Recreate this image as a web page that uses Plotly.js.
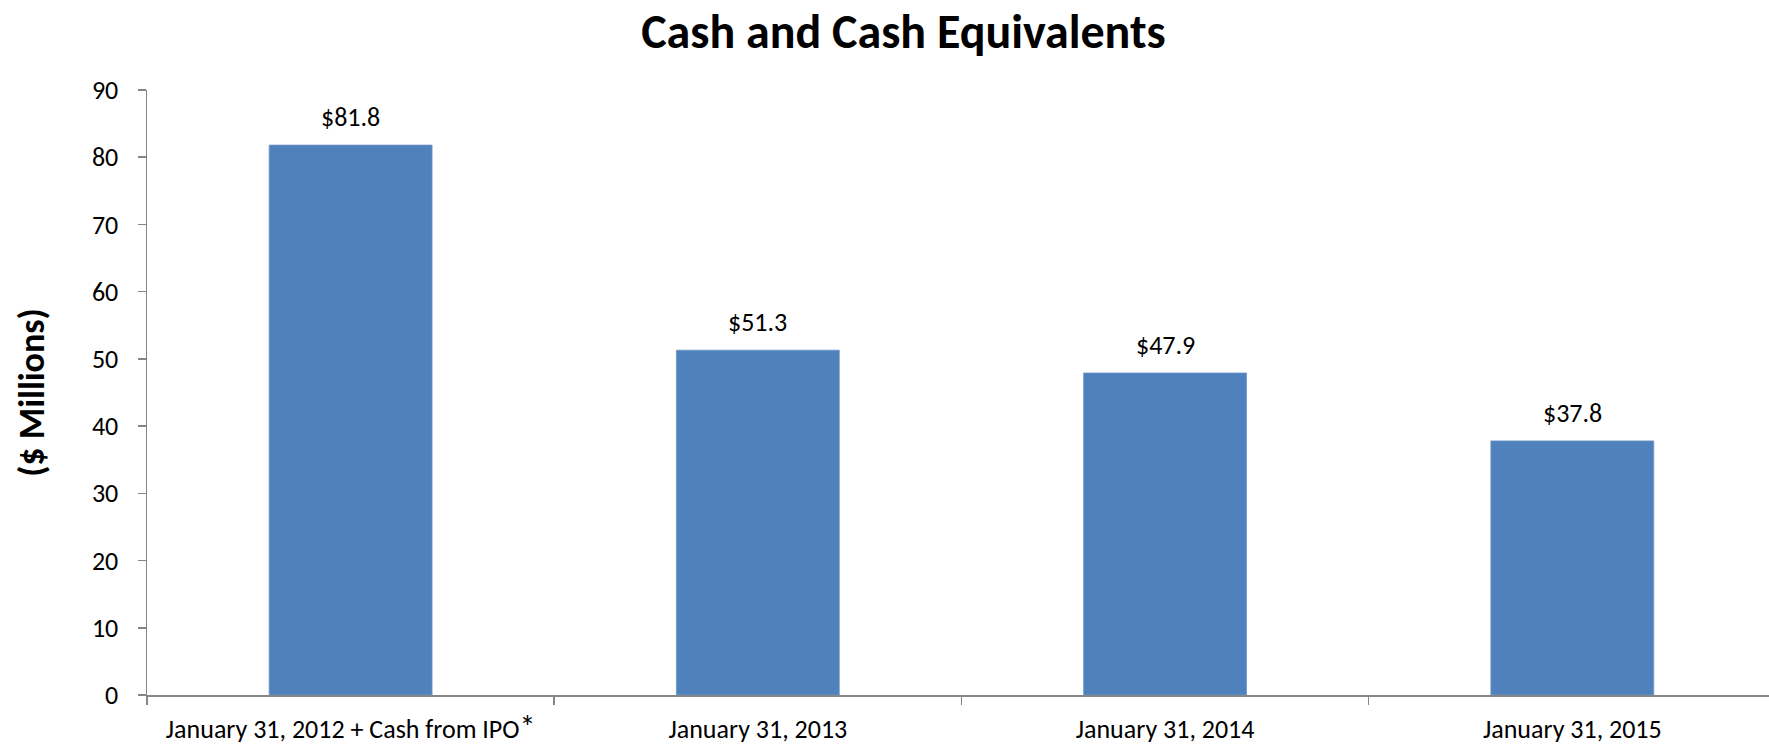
<!DOCTYPE html>
<html>
<head>
<meta charset="utf-8">
<script src="https://cdn.plot.ly/plotly-3.0.1.min.js"></script>
<style>html,body{margin:0;padding:0;background:#fff;}#chart{width:1769px;height:745px;}</style>
</head>
<body>
<div id="chart"></div>
<script>
const categories = ["January 31, 2012 + Cash from IPO<span style=\"font-size:32px\">*</span>", "January 31, 2013", "January 31, 2014", "January 31, 2015"];
const cashValues = [81.8, 51.3, 47.9, 37.8];
const valueLabels = ["$81.8", "$51.3", "$47.9", "$37.8"];
const yTickValues = [0, 10, 20, 30, 40, 50, 60, 70, 80, 90];

const FONT = "Carlito, Calibri, Lato, 'Open Sans', sans-serif";
const AXIS_GRAY = "#868686";

const trace = {
  type: "bar",
  x: categories,
  y: cashValues,
  marker: { color: "#4F81BD", line: { color: "#6F95C8", width: 0.8 } },
  hoverinfo: "skip"
};

const annotations = categories.map((c, i) => ({
  x: c, y: cashValues[i], xref: "x", yref: "y",
  text: valueLabels[i], showarrow: false,
  yanchor: "middle", yshift: 28,
  font: { family: FONT, size: 26, color: "#000" }
}));

const layout = {
  width: 1769, height: 745,
  margin: { l: 147, r: 0, t: 90, b: 50 },
  paper_bgcolor: "#fff", plot_bgcolor: "#fff",
  showlegend: false,
  bargap: 0.6,
  title: {
    text: "<b>Cash and Cash Equivalents</b>",
    xref: "container", x: 0.5107, xanchor: "center",
    yref: "container", y: 0.958, yanchor: "middle",
    font: { family: FONT, size: 48, color: "#000" }
  },
  xaxis: {
    type: "category",
    range: [-0.5, 3.483],
    tickson: "boundaries",
    ticks: "outside", ticklen: 8, tickcolor: AXIS_GRAY, tickwidth: 1.5,
    showline: true, linecolor: AXIS_GRAY, linewidth: 1.5,
    showgrid: false, zeroline: false,
    tickfont: { family: FONT, size: 26, color: "#000" },
    ticklabelstandoff: 10
  },
  yaxis: {
    range: [0, 90],
    tickvals: yTickValues,
    ticks: "outside", ticklen: 8, tickcolor: AXIS_GRAY, tickwidth: 1.5,
    showline: true, linecolor: AXIS_GRAY, linewidth: 1.5,
    showgrid: false, zeroline: false,
    tickfont: { family: FONT, size: 26, color: "#000" },
    ticklabelstandoff: 14,
    title: {
      text: "<b>($ Millions)</b>",
      font: { family: FONT, size: 36, color: "#000" },
      standoff: 36
    }
  },
  annotations: annotations
};

Plotly.newPlot("chart", [trace], layout, { staticPlot: true, displayModeBar: false });
</script>
</body>
</html>
